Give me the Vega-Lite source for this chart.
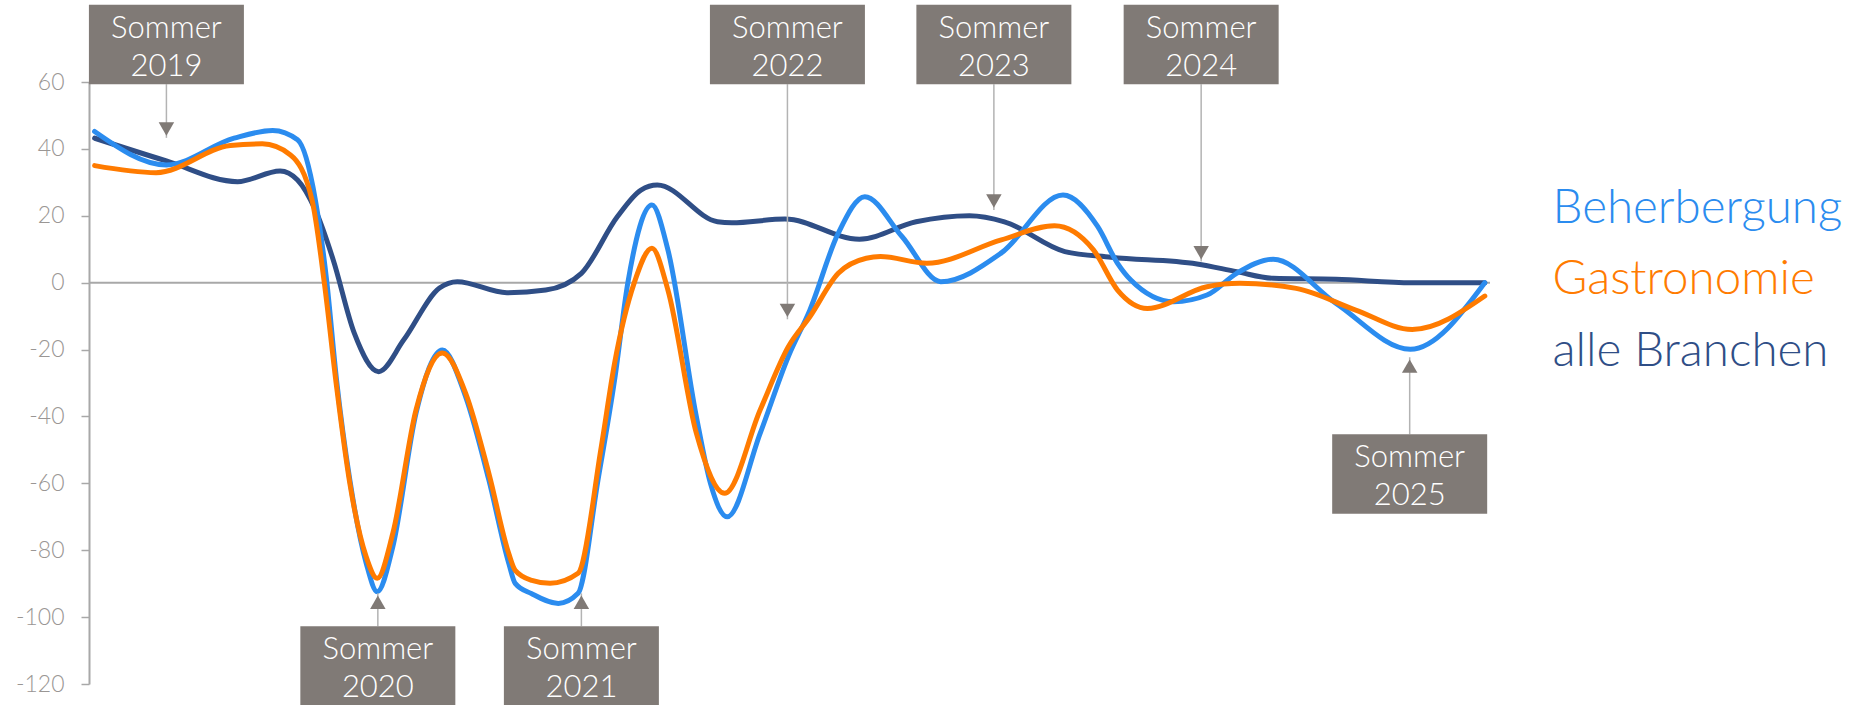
{
  "$schema": "https://vega.github.io/schema/vega-lite/v6.json",
  "width": 1401,
  "height": 602,
  "autosize": {"type": "none"},
  "padding": {"left": 89, "top": 82, "right": 370, "bottom": 22},
  "background": "#ffffff",
  "config": {"view": {"stroke": null}, "font": "Lato"},
  "datasets": {
    "linien": [
      {"serie": "alle Branchen", "t": 2019.163, "wert": 43.2},
      {"serie": "alle Branchen", "t": 2019.509, "wert": 36.4},
      {"serie": "alle Branchen", "t": 2019.852, "wert": 30.2},
      {"serie": "alle Branchen", "t": 2020.057, "wert": 33.4},
      {"serie": "alle Branchen", "t": 2020.141, "wert": 30.7},
      {"serie": "alle Branchen", "t": 2020.227, "wert": 21.7},
      {"serie": "alle Branchen", "t": 2020.313, "wert": 6.8},
      {"serie": "alle Branchen", "t": 2020.414, "wert": -15},
      {"serie": "alle Branchen", "t": 2020.532, "wert": -26.6},
      {"serie": "alle Branchen", "t": 2020.653, "wert": -17.1},
      {"serie": "alle Branchen", "t": 2020.825, "wert": -1.6},
      {"serie": "alle Branchen", "t": 2020.911, "wert": 0.3},
      {"serie": "alle Branchen", "t": 2021.150, "wert": -3},
      {"serie": "alle Branchen", "t": 2021.337, "wert": -2.2},
      {"serie": "alle Branchen", "t": 2021.509, "wert": 2.8},
      {"serie": "alle Branchen", "t": 2021.682, "wert": 19.7},
      {"serie": "alle Branchen", "t": 2021.796, "wert": 27.7},
      {"serie": "alle Branchen", "t": 2021.875, "wert": 29.2},
      {"serie": "alle Branchen", "t": 2022.165, "wert": 18.2},
      {"serie": "alle Branchen", "t": 2022.234, "wert": 17.9},
      {"serie": "alle Branchen", "t": 2022.490, "wert": 19.0},
      {"serie": "alle Branchen", "t": 2022.849, "wert": 13.0},
      {"serie": "alle Branchen", "t": 2023.122, "wert": 18.2},
      {"serie": "alle Branchen", "t": 2023.379, "wert": 20.0},
      {"serie": "alle Branchen", "t": 2023.548, "wert": 18.2},
      {"serie": "alle Branchen", "t": 2023.839, "wert": 9.3},
      {"serie": "alle Branchen", "t": 2024.062, "wert": 7.6},
      {"serie": "alle Branchen", "t": 2024.476, "wert": 5.6},
      {"serie": "alle Branchen", "t": 2024.667, "wert": 3.3},
      {"serie": "alle Branchen", "t": 2024.843, "wert": 1.3},
      {"serie": "alle Branchen", "t": 2025.146, "wert": 1.0},
      {"serie": "alle Branchen", "t": 2025.513, "wert": 0},
      {"serie": "alle Branchen", "t": 2025.863, "wert": 0},
      {"serie": "Beherbergung", "t": 2019.163, "wert": 45.2},
      {"serie": "Beherbergung", "t": 2019.509, "wert": 35.2},
      {"serie": "Beherbergung", "t": 2019.835, "wert": 43.2},
      {"serie": "Beherbergung", "t": 2020.021, "wert": 45.5},
      {"serie": "Beherbergung", "t": 2020.141, "wert": 42.7},
      {"serie": "Beherbergung", "t": 2020.227, "wert": 24.7},
      {"serie": "Beherbergung", "t": 2020.281, "wert": 0.8},
      {"serie": "Beherbergung", "t": 2020.329, "wert": -29.1},
      {"serie": "Beherbergung", "t": 2020.393, "wert": -59},
      {"serie": "Beherbergung", "t": 2020.472, "wert": -83.9},
      {"serie": "Beherbergung", "t": 2020.525, "wert": -92.4},
      {"serie": "Beherbergung", "t": 2020.600, "wert": -79},
      {"serie": "Beherbergung", "t": 2020.712, "wert": -39},
      {"serie": "Beherbergung", "t": 2020.839, "wert": -20.1},
      {"serie": "Beherbergung", "t": 2020.951, "wert": -34.1},
      {"serie": "Beherbergung", "t": 2021.063, "wert": -59},
      {"serie": "Beherbergung", "t": 2021.159, "wert": -83.9},
      {"serie": "Beherbergung", "t": 2021.190, "wert": -89.9},
      {"serie": "Beherbergung", "t": 2021.270, "wert": -93},
      {"serie": "Beherbergung", "t": 2021.398, "wert": -95.9},
      {"serie": "Beherbergung", "t": 2021.493, "wert": -92.9},
      {"serie": "Beherbergung", "t": 2021.589, "wert": -59},
      {"serie": "Beherbergung", "t": 2021.669, "wert": -29.1},
      {"serie": "Beherbergung", "t": 2021.733, "wert": 0},
      {"serie": "Beherbergung", "t": 2021.849, "wert": 23.2},
      {"serie": "Beherbergung", "t": 2021.926, "wert": 9.8},
      {"serie": "Beherbergung", "t": 2022.063, "wert": -40},
      {"serie": "Beherbergung", "t": 2022.131, "wert": -60},
      {"serie": "Beherbergung", "t": 2022.212, "wert": -70},
      {"serie": "Beherbergung", "t": 2022.371, "wert": -45},
      {"serie": "Beherbergung", "t": 2022.507, "wert": -22},
      {"serie": "Beherbergung", "t": 2022.610, "wert": -8.2},
      {"serie": "Beherbergung", "t": 2022.747, "wert": 14.8},
      {"serie": "Beherbergung", "t": 2022.875, "wert": 25.7},
      {"serie": "Beherbergung", "t": 2023.054, "wert": 13.8},
      {"serie": "Beherbergung", "t": 2023.241, "wert": 0.3},
      {"serie": "Beherbergung", "t": 2023.533, "wert": 8.9},
      {"serie": "Beherbergung", "t": 2023.830, "wert": 26.2},
      {"serie": "Beherbergung", "t": 2023.997, "wert": 16.8},
      {"serie": "Beherbergung", "t": 2024.093, "wert": 5.8},
      {"serie": "Beherbergung", "t": 2024.157, "wert": 0.8},
      {"serie": "Beherbergung", "t": 2024.364, "wert": -5.7},
      {"serie": "Beherbergung", "t": 2024.524, "wert": -3.7},
      {"serie": "Beherbergung", "t": 2024.667, "wert": 2.8},
      {"serie": "Beherbergung", "t": 2024.843, "wert": 7.0},
      {"serie": "Beherbergung", "t": 2025.146, "wert": -6.2},
      {"serie": "Beherbergung", "t": 2025.504, "wert": -19.9},
      {"serie": "Beherbergung", "t": 2025.863, "wert": 0},
      {"serie": "Gastronomie", "t": 2019.163, "wert": 35},
      {"serie": "Gastronomie", "t": 2019.459, "wert": 32.9},
      {"serie": "Gastronomie", "t": 2019.817, "wert": 41},
      {"serie": "Gastronomie", "t": 2019.971, "wert": 41.5},
      {"serie": "Gastronomie", "t": 2020.107, "wert": 38.2},
      {"serie": "Gastronomie", "t": 2020.211, "wert": 24.7},
      {"serie": "Gastronomie", "t": 2020.270, "wert": 0},
      {"serie": "Gastronomie", "t": 2020.329, "wert": -31},
      {"serie": "Gastronomie", "t": 2020.393, "wert": -60},
      {"serie": "Gastronomie", "t": 2020.472, "wert": -82},
      {"serie": "Gastronomie", "t": 2020.525, "wert": -88.4},
      {"serie": "Gastronomie", "t": 2020.600, "wert": -75},
      {"serie": "Gastronomie", "t": 2020.712, "wert": -38},
      {"serie": "Gastronomie", "t": 2020.839, "wert": -21},
      {"serie": "Gastronomie", "t": 2020.951, "wert": -33},
      {"serie": "Gastronomie", "t": 2021.063, "wert": -57},
      {"serie": "Gastronomie", "t": 2021.159, "wert": -81},
      {"serie": "Gastronomie", "t": 2021.190, "wert": -86},
      {"serie": "Gastronomie", "t": 2021.270, "wert": -89},
      {"serie": "Gastronomie", "t": 2021.358, "wert": -89.9},
      {"serie": "Gastronomie", "t": 2021.493, "wert": -86.9},
      {"serie": "Gastronomie", "t": 2021.605, "wert": -49},
      {"serie": "Gastronomie", "t": 2021.669, "wert": -24.1},
      {"serie": "Gastronomie", "t": 2021.764, "wert": 0},
      {"serie": "Gastronomie", "t": 2021.849, "wert": 10.3},
      {"serie": "Gastronomie", "t": 2021.926, "wert": -2.2},
      {"serie": "Gastronomie", "t": 2022.063, "wert": -45},
      {"serie": "Gastronomie", "t": 2022.200, "wert": -63},
      {"serie": "Gastronomie", "t": 2022.371, "wert": -38},
      {"serie": "Gastronomie", "t": 2022.507, "wert": -19.1},
      {"serie": "Gastronomie", "t": 2022.610, "wert": -10.2},
      {"serie": "Gastronomie", "t": 2022.747, "wert": 2.8},
      {"serie": "Gastronomie", "t": 2022.882, "wert": 7.3},
      {"serie": "Gastronomie", "t": 2022.951, "wert": 7.8},
      {"serie": "Gastronomie", "t": 2023.174, "wert": 5.8},
      {"serie": "Gastronomie", "t": 2023.533, "wert": 12.8},
      {"serie": "Gastronomie", "t": 2023.789, "wert": 17.0},
      {"serie": "Gastronomie", "t": 2023.977, "wert": 9.8},
      {"serie": "Gastronomie", "t": 2024.093, "wert": -2.2},
      {"serie": "Gastronomie", "t": 2024.237, "wert": -7.7},
      {"serie": "Gastronomie", "t": 2024.524, "wert": -1.2},
      {"serie": "Gastronomie", "t": 2024.682, "wert": -0.2},
      {"serie": "Gastronomie", "t": 2024.954, "wert": -1.7},
      {"serie": "Gastronomie", "t": 2025.241, "wert": -8.2},
      {"serie": "Gastronomie", "t": 2025.513, "wert": -14},
      {"serie": "Gastronomie", "t": 2025.863, "wert": -4}
    ],
    "notizen": [
      {"beschriftung": "Sommer\n2019", "t": 2019.509, "kasten_oben": 83.07, "kasten_unten": 59.35, "spitze": 43.3, "ansatz": 59.35, "richtung": "runter"},
      {"beschriftung": "Sommer\n2020", "t": 2020.528, "kasten_oben": -102.7, "kasten_unten": -126.3, "spitze": -92.9, "ansatz": -102.7, "richtung": "hoch"},
      {"beschriftung": "Sommer\n2021", "t": 2021.509, "kasten_oben": -102.7, "kasten_unten": -126.3, "spitze": -92.9, "ansatz": -102.7, "richtung": "hoch"},
      {"beschriftung": "Sommer\n2022", "t": 2022.502, "kasten_oben": 83.07, "kasten_unten": 59.35, "spitze": -10.95, "ansatz": 59.35, "richtung": "runter"},
      {"beschriftung": "Sommer\n2023", "t": 2023.497, "kasten_oben": 83.07, "kasten_unten": 59.35, "spitze": 21.75, "ansatz": 59.35, "richtung": "runter"},
      {"beschriftung": "Sommer\n2024", "t": 2024.496, "kasten_oben": 83.07, "kasten_unten": 59.35, "spitze": 6.3, "ansatz": 59.35, "richtung": "runter"},
      {"beschriftung": "Sommer\n2025", "t": 2025.501, "kasten_oben": -45.35, "kasten_unten": -69.1, "spitze": -22.3, "ansatz": -45.35, "richtung": "hoch"}
    ]
  },
  "layer": [
    {
      "data": {"values": [{"linie": "Nulllinie"}]},
      "mark": {"type": "rule", "color": "#a8a8a8", "strokeWidth": 2},
      "encoding": {
        "y": {"datum": 0, "type": "quantitative", "title": null, "scale": {"domain": [-120, 60], "nice": false, "zero": false}}
      }
    },
    {
      "data": {"name": "linien"},
      "mark": {"type": "line", "interpolate": "monotone", "strokeWidth": 5, "strokeCap": "round", "strokeJoin": "round"},
      "encoding": {
        "x": {"field": "t", "type": "quantitative", "axis": null, "scale": {"domain": [2019.16, 2025.864], "nice": false, "zero": false}},
        "y": {
          "field": "wert", "type": "quantitative", "title": null,
          "scale": {"domain": [-120, 60], "nice": false, "zero": false},
          "axis": {
            "values": [-120, -100, -80, -60, -40, -20, 0, 20, 40, 60],
            "grid": false,
            "domainColor": "#a8a8a8", "domainWidth": 2,
            "tickColor": "#a8a8a8", "tickWidth": 1.5, "tickSize": 8,
            "labelFont": "Lato", "labelFontWeight": 300, "labelFontSize": 23,
            "labelColor": "#9a9694", "labelPadding": 17,
            "labelExpr": "'' + datum.value"
          }
        },
        "color": {
          "field": "serie", "type": "nominal",
          "scale": {"domain": ["Beherbergung", "Gastronomie", "alle Branchen"], "range": ["#2b8cef", "#ff7b00", "#2f4e86"]},
          "legend": {
            "title": null, "orient": "none", "legendX": 1416, "legendY": 103,
            "direction": "vertical", "padding": 0, "offset": 0,
            "labelFont": "Lato", "labelFontWeight": 300, "labelFontSize": 47.5,
            "labelColor": {"expr": "scale('color', datum.value)"},
            "labelLimit": 0, "labelOffset": 0,
            "symbolSize": 0, "symbolOpacity": 0, "symbolStrokeWidth": 0,
            "rowPadding": 22.5
          }
        }
      }
    },
    {
      "data": {"name": "notizen"},
      "mark": {"type": "rule", "color": "#b3b3b3", "strokeWidth": 1.5},
      "encoding": {
        "x": {"field": "t", "type": "quantitative", "axis": null, "scale": {"domain": [2019.16, 2025.864], "nice": false, "zero": false}},
        "y": {"field": "spitze", "type": "quantitative", "title": null, "scale": {"domain": [-120, 60], "nice": false, "zero": false}},
        "y2": {"field": "ansatz"}
      }
    },
    {
      "data": {"name": "notizen"},
      "transform": [{"filter": "datum.richtung == 'runter'"}],
      "mark": {"type": "point", "shape": "triangle-down", "size": 240, "filled": true, "color": "#807a76", "opacity": 1, "strokeWidth": 0, "yOffset": -8.9},
      "encoding": {
        "x": {"field": "t", "type": "quantitative", "axis": null, "scale": {"domain": [2019.16, 2025.864], "nice": false, "zero": false}},
        "y": {"field": "spitze", "type": "quantitative", "title": null, "scale": {"domain": [-120, 60], "nice": false, "zero": false}}
      }
    },
    {
      "data": {"name": "notizen"},
      "transform": [{"filter": "datum.richtung == 'hoch'"}],
      "mark": {"type": "point", "shape": "triangle-up", "size": 240, "filled": true, "color": "#807a76", "opacity": 1, "strokeWidth": 0, "yOffset": 8.9},
      "encoding": {
        "x": {"field": "t", "type": "quantitative", "axis": null, "scale": {"domain": [2019.16, 2025.864], "nice": false, "zero": false}},
        "y": {"field": "spitze", "type": "quantitative", "title": null, "scale": {"domain": [-120, 60], "nice": false, "zero": false}}
      }
    },
    {
      "data": {"name": "notizen"},
      "mark": {"type": "bar", "width": 155, "color": "#807a76", "cornerRadius": 0},
      "encoding": {
        "x": {"field": "t", "type": "quantitative", "axis": null, "scale": {"domain": [2019.16, 2025.864], "nice": false, "zero": false}},
        "y": {"field": "kasten_oben", "type": "quantitative", "title": null, "scale": {"domain": [-120, 60], "nice": false, "zero": false}},
        "y2": {"field": "kasten_unten"}
      }
    },
    {
      "data": {"name": "notizen"},
      "mark": {"type": "text", "font": "Lato", "fontWeight": 300, "fontSize": 31, "color": "#ffffff", "align": "center", "baseline": "top", "dy": 9, "lineHeight": 38, "lineBreak": "\n"},
      "encoding": {
        "x": {"field": "t", "type": "quantitative", "axis": null, "scale": {"domain": [2019.16, 2025.864], "nice": false, "zero": false}},
        "y": {"field": "kasten_oben", "type": "quantitative", "title": null, "scale": {"domain": [-120, 60], "nice": false, "zero": false}},
        "text": {"field": "beschriftung", "type": "nominal"}
      }
    }
  ]
}
